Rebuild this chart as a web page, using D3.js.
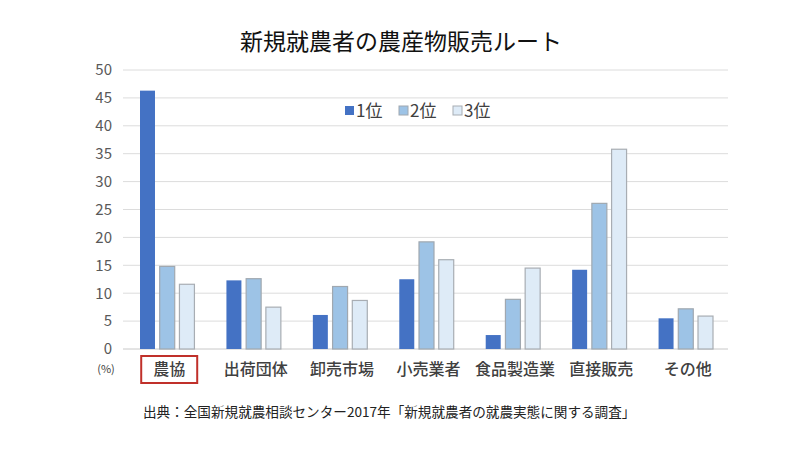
<!DOCTYPE html>
<html><head><meta charset="utf-8">
<script src="https://cdn.jsdelivr.net/npm/d3@7"></script>
<style>body{margin:0;background:#fff;}svg{display:block;}</style>
</head><body>
<svg id="c" width="800" height="450"></svg>
<script>
const categories = ["農協","出荷団体","卸売市場","小売業者","食品製造業","直接販売","その他"];
const seriesNames = ["1位","2位","3位"];
const rank1 = [46.3, 12.3, 6.1, 12.5, 2.5, 14.2, 5.5];
const rank2 = [14.8, 12.6, 11.2, 19.2, 8.9, 26.1, 7.2];
const rank3 = [11.6, 7.5, 8.7, 16.0, 14.5, 35.8, 5.9];
const yTicks = [0,5,10,15,20,25,30,35,40,45,50];
const titleText = "新規就農者の農産物販売ルート";
const sourceText = "出典：全国新規就農相談センター2017年「新規就農者の就農実態に関する調査」";
const unitText = "(%)";

(function () {
const colors = ["#4472C4", "#9DC3E6", "#DEEBF7"];
const strokes = ["none", "#a0a8b0", "#a8adb3"];
const font = "'Noto Sans CJK JP', 'Noto Sans', sans-serif";
const series = [rank1, rank2, rank3];

const svg = d3.select("#c");
const mLeft = 123, mRight = 728, mTop = 70, mBottom = 349;

const x = d3.scaleBand().domain(categories).range([mLeft, mRight]).paddingInner(0).paddingOuter(0);
const x1 = d3.scaleBand().domain(seriesNames).range([17, x.bandwidth() - 15]).paddingInner(0.24);
const y = d3.scaleLinear().domain([0, 50]).range([mBottom, mTop]);

// grid
svg.append("g").selectAll("line").data(yTicks).join("line")
  .attr("x1", mLeft).attr("x2", mRight)
  .attr("y1", d => y(d)).attr("y2", d => y(d))
  .attr("stroke", d => d === 0 ? "#c8c8c8" : "#dcdcdc").attr("stroke-width", 1);

// y axis labels
const yAxis = d3.axisLeft(y).tickValues(yTicks).tickSize(0).tickPadding(0);
const ga = svg.append("g").attr("transform", `translate(112,0)`).call(yAxis);
ga.select(".domain").remove();
ga.selectAll("text").attr("font-family", font).attr("font-size", 15).attr("fill", "#595959");

// bars
const groups = svg.append("g").selectAll("g").data(categories).join("g")
  .attr("transform", d => `translate(${x(d)},0)`);
groups.selectAll("rect").data((d, i) => series.map((s, k) => ({k, v: s[i]}))).join("rect")
  .attr("x", d => x1(seriesNames[d.k]))
  .attr("width", x1.bandwidth())
  .attr("y", d => y(d.v))
  .attr("height", d => y(0) - y(d.v))
  .attr("fill", d => colors[d.k])
  .attr("stroke", d => strokes[d.k])
  .attr("stroke-width", 1.2);

// category labels
svg.append("g").selectAll("text").data(categories).join("text")
  .attr("x", d => x(d) + x.bandwidth() / 2 + 3)
  .attr("y", 375)
  .attr("text-anchor", "middle")
  .attr("font-family", font).attr("font-size", 16).attr("font-weight", 500)
  .attr("fill", "#404040")
  .text(d => d);

// red box around first category
svg.append("rect")
  .attr("x", x(categories[0]) + x.bandwidth() / 2 - 25).attr("y", 356)
  .attr("width", 56).attr("height", 27)
  .attr("fill", "none").attr("stroke", "#c0302a").attr("stroke-width", 2);

// unit
svg.append("text").attr("x", 106).attr("y", 373).attr("text-anchor", "middle")
  .attr("font-family", font).attr("font-size", 11).attr("fill", "#404040").text(unitText);

// title
svg.append("text").attr("x", 401).attr("y", 50).attr("text-anchor", "middle")
  .attr("font-family", font).attr("font-size", 23).attr("fill", "#111").text(titleText);

// legend
const legX = [345, 399, 453];
const lg = svg.append("g").selectAll("g").data(seriesNames).join("g")
  .attr("transform", (d, i) => `translate(${legX[i]},111)`);
lg.append("rect").attr("x", 0).attr("y", -5).attr("width", 9).attr("height", 9)
  .attr("fill", (d, i) => colors[i]).attr("stroke", (d, i) => strokes[i]);
lg.append("text").attr("x", 11).attr("y", 6)
  .attr("font-family", font).attr("font-size", 17).attr("fill", "#404040").text(d => d);

// source
svg.append("text").attr("x", 143).attr("y", 417)
  .attr("font-family", font).attr("font-size", 13.6).attr("fill", "#222").text(sourceText);
})();
</script>
</body></html>
